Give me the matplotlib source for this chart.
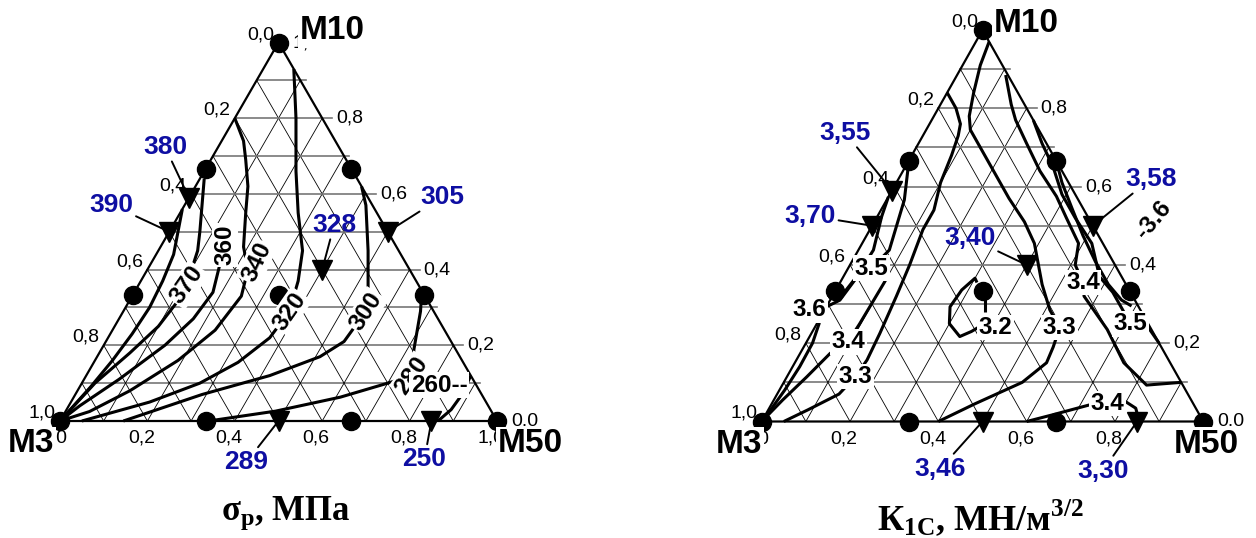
import numpy as np
import matplotlib.pyplot as plt

plt.rcParams['font.family'] = ['Liberation Sans', 'DejaVu Sans']
plt.rcParams['mathtext.fontset'] = 'custom'
plt.rcParams['mathtext.rm'] = 'Liberation Serif'
plt.rcParams['mathtext.bf'] = 'Liberation Serif:bold'

H = np.sqrt(3) / 2
BLUE = '#0e0ea2'

# all compositions are (M50, M10) fractions, M3 = 1 - M50 - M10
design_m50 = [0, 1, 0, 0, 0, 1/3, 2/3, 1/3, 2/3, 1/3]
design_m10 = [0, 0, 1, 1/3, 2/3, 2/3, 1/3, 0, 0, 1/3]

check_m50 = [0.0, 0.0, 0.5, 0.4, 0.5, 0.85]
check_m10 = [0.59, 0.5, 0.5, 0.4, 0.0, 0.0]
sigma_check = ['380', '390', '305', '328', '289', '250']
k1c_check = ['3,55', '3,70', '3,58', '3,40', '3,46', '3,30']

# tensile strength isolines, MPa
s390 = [(0.0, 0.56), (0.02, 0.50), (0.04, 0.44), (0.05, 0.37), (0.055, 0.30),
        (0.05, 0.23), (0.04, 0.16), (0.025, 0.09), (0.0, 0.0)]
s370 = [(0.01, 0.64), (0.04, 0.57), (0.07, 0.50), (0.09, 0.45), (0.11, 0.36),
        (0.11, 0.31), (0.10, 0.25), (0.07, 0.18), (0.03, 0.10), (0.0, 0.0)]
s360 = [(0.145, 0.465), (0.16, 0.41), (0.18, 0.34), (0.17, 0.27), (0.14, 0.20),
        (0.08, 0.11), (0.025, 0.04), (0.0, 0.0)]
s340 = [(0.0, 0.80), (0.05, 0.74), (0.08, 0.69), (0.12, 0.62), (0.15, 0.55),
        (0.19, 0.46), (0.23, 0.40), (0.25, 0.33), (0.235, 0.24), (0.19, 0.16),
        (0.12, 0.08), (0.055, 0.025), (0.0, 0.0)]
s320 = [(0.07, 0.93), (0.14, 0.80), (0.21, 0.66), (0.27, 0.55), (0.33, 0.45),
        (0.36, 0.37), (0.38, 0.29), (0.37, 0.22), (0.33, 0.155), (0.27, 0.10),
        (0.18, 0.05), (0.05, 0.0)]
s300 = [(0.38, 0.62), (0.415, 0.57), (0.48, 0.45), (0.53, 0.35), (0.555, 0.29),
        (0.545, 0.21), (0.51, 0.17), (0.42, 0.12), (0.29, 0.07), (0.145, 0.0)]
s280 = [(0.34, 0.0), (0.48, 0.026), (0.61, 0.063), (0.70, 0.10), (0.745, 0.12),
        (0.715, 0.19), (0.68, 0.29), (0.66, 0.335)]
s260 = [(0.88, 0.12), (0.885, 0.07), (0.88, 0.03), (0.865, 0.0)]

sigma_labels = ['370', '360', '340', '320', '300', '280', '260--']
sigma_lab_m50 = [0.11, 0.145, 0.24, 0.38, 0.555, 0.745, 0.82]
sigma_lab_m10 = [0.36, 0.465, 0.42, 0.29, 0.29, 0.12, 0.095]
sigma_lab_rot = [55, 90, 65, 55, 57, 55, 0]

# fracture toughness isolines, MN/m^3/2
k36a = [(0.0, 0.574), (0.01, 0.523), (0.034, 0.438), (0.03, 0.36), (0.022, 0.31),
        (-0.01, 0.285), (0.005, 0.25), (0.015, 0.20), (0.016, 0.14), (0.012, 0.08),
        (0.006, 0.035), (0.0, 0.0)]
k35a = [(0.0, 0.667), (0.04, 0.566), (0.07, 0.438), (0.053, 0.391), (0.03, 0.37),
        (0.022, 0.33)]
k34a = [(0.10, 0.37), (0.10, 0.353), (0.097, 0.25), (0.094, 0.204), (0.068, 0.174),
        (0.045, 0.114), (0.02, 0.055), (0.0, 0.0)]
k33a = [(0.0, 0.84), (0.04, 0.80), (0.07, 0.76), (0.08, 0.73), (0.09, 0.68),
        (0.10, 0.61), (0.12, 0.54), (0.12, 0.49), (0.135, 0.40), (0.145, 0.32),
        (0.155, 0.225), (0.16, 0.157), (0.155, 0.115), (0.14, 0.07), (0.09, 0.03),
        (0.05, 0.0)]
k33b = [(0.03, 0.97), (0.04, 0.91), (0.06, 0.84), (0.08, 0.78), (0.10, 0.745),
        (0.155, 0.69), (0.215, 0.63), (0.275, 0.57), (0.34, 0.51), (0.39, 0.455),
        (0.46, 0.35), (0.51, 0.285), (0.555, 0.24), (0.565, 0.19), (0.57, 0.15),
        (0.54, 0.10), (0.46, 0.045), (0.40, 0.0)]
k34b = [(0.11, 0.885), (0.16, 0.81), (0.19, 0.77), (0.245, 0.71), (0.31, 0.64),
        (0.38, 0.575), (0.43, 0.52), (0.49, 0.455), (0.51, 0.40), (0.55, 0.355),
        (0.57, 0.32), (0.665, 0.235), (0.745, 0.15), (0.825, 0.093), (0.90, 0.10)]
k35b = [(0.23, 0.77), (0.28, 0.71), (0.335, 0.65), (0.39, 0.58), (0.45, 0.52),
        (0.52, 0.455), (0.58, 0.37), (0.63, 0.33), (0.71, 0.25), (0.75, 0.245),
        (0.80, 0.20)]
k36b = [(1/3, 0.667), (0.375, 0.61), (0.43, 0.545), (0.49, 0.475), (0.55, 0.41),
        (0.61, 0.35), (0.66, 0.31), (0.69, 0.295)]
k32 = [(0.31, 0.355), (0.30, 0.366), (0.285, 0.336), (0.28, 0.293), (0.30, 0.25),
       (0.34, 0.217), (0.36, 0.23), (0.37, 0.24)]
k32_stem = [(0.34, 0.33), (0.365, 0.28)]
k34c = [(0.60, 0.0), (0.65, 0.017), (0.72, 0.042), (0.76, 0.046), (0.80, 0.05),
        (0.83, 0.034), (0.855, 0.0)]

k1c_labels = ['3.5', '3.6', '3.4', '3.3', '3.2', '3.3', '3.4', '3.5', '-3.6', '3.4']
k1c_lab_m50 = [0.053, -0.035, 0.094, 0.155, 0.41, 0.555, 0.55, 0.71, 0.63, 0.76]
k1c_lab_m10 = [0.391, 0.285, 0.204, 0.115, 0.24, 0.24, 0.355, 0.25, 0.515, 0.046]
k1c_lab_rot = [0, 0, 0, 0, 0, 0, 0, 0, 50, 0]


def to_xy(m50, m10):
    m50 = np.asarray(m50, float)
    m10 = np.asarray(m10, float)
    return m50 + m10 / 2, m10 * H


def setup_axes(fig, col, m3_px, m50_px, base_px, apex_px):
    # place the unit triangle on the given pixel anchors
    W, Hp = fig.bbox.width, fig.bbox.height
    ax = fig.add_axes([col[0] / W, 0, (col[1] - col[0]) / W, 1])
    sx = m50_px - m3_px
    sy = (base_px - apex_px) / H
    ax.set_xlim((col[0] - m3_px) / sx, (col[1] - m3_px) / sx)
    ax.set_ylim((base_px - Hp) / sy, base_px / sy)
    ax.axis('off')
    return ax


def draw_frame(ax):
    for k in range(1, 10):
        f = k / 10
        ext = 0.023 if k % 2 == 0 else 0.012
        x0, y0 = to_xy(0, f)
        x1, y1 = to_xy(1 - f, f)
        ax.plot([x0, x1 + ext], [y0, y1], color='#777777', lw=1.2, zorder=1)
        x0, y0 = to_xy(f, 0)
        x1, y1 = to_xy(f, 1 - f)
        ax.plot([x0, x1], [y0, y1], color='k', lw=0.6, zorder=1)
        x0, y0 = to_xy(1 - f, 0)
        x1, y1 = to_xy(0, 1 - f)
        ax.plot([x0, x1], [y0, y1], color='k', lw=0.6, zorder=1)
    x, y = to_xy([0, 1, 0, 0], [0, 0, 1, 0])
    ax.plot(x, y, color='k', lw=1.6, zorder=2, solid_joinstyle='miter')

    tick_kw = dict(textcoords='offset pixels', fontsize=14, zorder=6)
    for f in np.arange(0, 1.01, 0.2):
        s = f'{f:.1f}'.replace('.', ',')
        # M3 axis, left side
        ax.annotate(s, to_xy(0, 1 - f), xytext=(-18, 8), ha='center', va='center', **tick_kw)
        # M50 axis, bottom
        ax.annotate(s, to_xy(f, 0), xytext=(-6, -17), ha='center', va='center', **tick_kw)
        # M10 axis, right side
        s_r = '0.0' if f == 0 else s
        ax.annotate(s_r, to_xy(1 - f, f), xytext=(14, 0), ha='left', va='center', **tick_kw)

    x, y = to_xy(design_m50, design_m10)
    ax.plot(x, y, 'o', color='k', ms=13, zorder=4, ls='none')


def draw_names(ax, offsets):
    kw = dict(textcoords='offset pixels', fontsize=24, fontweight='bold', ha='center',
              va='center', zorder=7,
              bbox=dict(boxstyle='square,pad=0.05', fc='white', ec='none'))
    for name, pt, off in zip(['M10', 'M3', 'M50'], [(0, 1), (0, 0), (1, 0)], offsets):
        ax.annotate(name, to_xy(*pt), xytext=off, **kw)


def draw_isolines(ax, lines, labels, lab_m50, lab_m10, lab_rot):
    for line in lines:
        m50, m10 = zip(*line)
        x, y = to_xy(m50, m10)
        ax.plot(x, y, color='k', lw=2.2, zorder=3, solid_capstyle='butt')
    for s, a, b, r in zip(labels, lab_m50, lab_m10, lab_rot):
        x, y = to_xy(a, b)
        ax.text(x, y, s, rotation=r, ha='center', va='center', fontsize=17.5,
                fontweight='bold', zorder=5, rotation_mode='anchor',
                bbox=dict(boxstyle='square,pad=0.06', fc='white', ec='none'))


def draw_checks(ax, texts, offsets):
    x, y = to_xy(check_m50, check_m10)
    ax.plot(x, y, 'v', color='k', ms=14, zorder=4, ls='none')
    for xi, yi, s, off in zip(x, y, texts, offsets):
        ax.annotate(s, (xi, yi), xytext=off, textcoords='offset pixels', ha='center',
                    va='center', color=BLUE, fontsize=19, fontweight='bold', zorder=6,
                    arrowprops=dict(arrowstyle='-', color='k', lw=1.4,
                                    shrinkA=0, shrinkB=0))


fig = plt.figure(figsize=(12.56, 5.38), dpi=100)
title_kw = dict(textcoords='offset pixels', ha='center', va='center',
                family='Liberation Serif', fontweight='bold')

# left: tensile strength
ax1 = setup_axes(fig, (0, 628), 60, 497, 421, 42.5)
draw_frame(ax1)
draw_isolines(ax1, [s390, s370, s360, s340, s320, s300, s280, s260],
              sigma_labels, sigma_lab_m50, sigma_lab_m10, sigma_lab_rot)
draw_checks(ax1, sigma_check,
            [(-24, 51), (-58, 27), (55, 35), (12, 45), (-32, -41), (-7, -38)])
draw_names(ax1, [(54, 12), (-29, -23), (33, -23)])
ax1.annotate(r'$\mathbf{\sigma_р}$, МПа', to_xy(0.5, 0), xytext=(7, -92),
             fontsize=25, **title_kw)

# right: fracture toughness
ax2 = setup_axes(fig, (628, 1256), 761.7, 1203.3, 421.5, 30)
draw_frame(ax2)
draw_isolines(ax2, [k36a, k35a, k34a, k33a, k33b, k34b, k35b, k36b, k32, k32_stem, k34c],
              k1c_labels, k1c_lab_m50, k1c_lab_m10, k1c_lab_rot)
draw_checks(ax2, k1c_check,
            [(-47, 58), (-62, 10), (58, 47), (-57, 27), (-42, -47), (-34, -49)])
draw_names(ax2, [(44, 7), (-23, -23), (3, -23)])
ax2.annotate(r'$\mathbf{К_{1С}}$, МН/м$^{\mathbf{3/2}}$', to_xy(0.5, 0), xytext=(-2, -96),
             fontsize=26, **title_kw)

fig.savefig('out.png', dpi=100)
